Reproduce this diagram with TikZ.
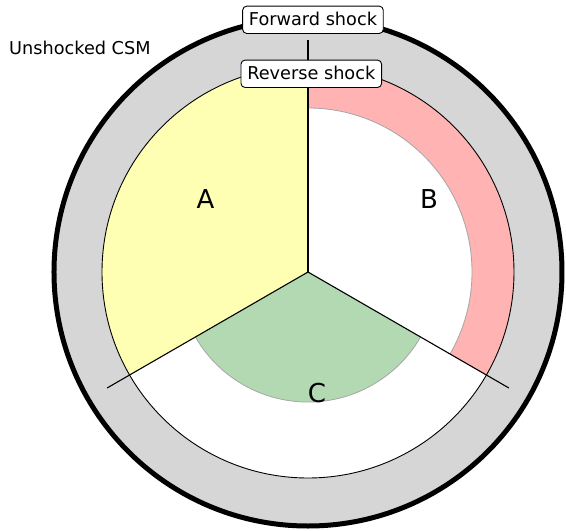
\documentclass[tikz,border=0pt]{standalone}
\usepackage{fontspec}
\setmainfont{DejaVu Sans}
\begin{document}
\begin{tikzpicture}[x=1pt,y=1pt,
  csm/.style={fill=csmgray, draw=black, line width=5pt},
  shell/.style={draw=black, line width=0.9pt},
  edgegray/.style={draw=black!35, line width=0.8pt},
  spoke/.style={draw=black, line width=1.1pt},
  tag/.style={draw=black, fill=white, rounded corners=4pt, line width=0.9pt,
    minimum width=140.6pt, minimum height=27.3pt, inner sep=0pt,
    text height=13.4pt, text depth=3pt, anchor=base,
    font=\fontsize{17.7}{21}\selectfont},
  plain/.style={inner sep=0pt, font=\fontsize{17.7}{21}\selectfont},
  region/.style={inner sep=0pt, anchor=base, font=\fontsize{26}{30}\selectfont}]
\definecolor{csmgray}{HTML}{D6D6D6}
\definecolor{ejyellow}{HTML}{FFFFB3}
\definecolor{ejpink}{HTML}{FFB3B3}
\definecolor{ejgreen}{HTML}{B3D9B3}
\useasboundingbox (-308,-259) rectangle (258,272);

\coordinate (O) at (0,0);
% unshocked circumstellar medium
\path[csm] (O) circle[radius=254];
% shocked region inside the forward shock
\fill[white] (O) circle[radius=206];
% sector A
\fill[ejyellow] (O) -- (90:206) arc[start angle=90, end angle=210, radius=206] -- cycle;
% sector B: shell between reverse and forward shock
\fill[ejpink] (90:206) arc[start angle=90, end angle=-30, radius=206]
  -- (-30:164) arc[start angle=-30, end angle=90, radius=164] -- cycle;
\draw[edgegray] (90:164) arc[start angle=90, end angle=-30, radius=164];
% sector C
\fill[ejgreen] (O) -- (210:130) arc[start angle=210, end angle=330, radius=130] -- cycle;
\draw[edgegray] (210:130) arc[start angle=210, end angle=330, radius=130];
% forward shock
\draw[shell] (O) circle[radius=206];
% dividing spokes
\coordinate (top) at (90:232);
\coordinate (left) at (210:232);
\coordinate (right) at (330:232);
\draw[spoke] (O) -- (top);
\draw[spoke] (O) -- (left);
\draw[spoke] (O) -- (right);

% labels
\node[region] (A) at (-102.5,64) {A};
\node[region] (B) at (121,64) {B};
\node[region] (C) at (9,-130) {C};
\node[plain, anchor=base west] (csmlabel) at (-299,218) {Unshocked CSM};
\node[tag] (fs) at (5,247) {Forward shock};
\node[tag] (rs) at (3.3,193) {Reverse shock};
\end{tikzpicture}
\end{document}
